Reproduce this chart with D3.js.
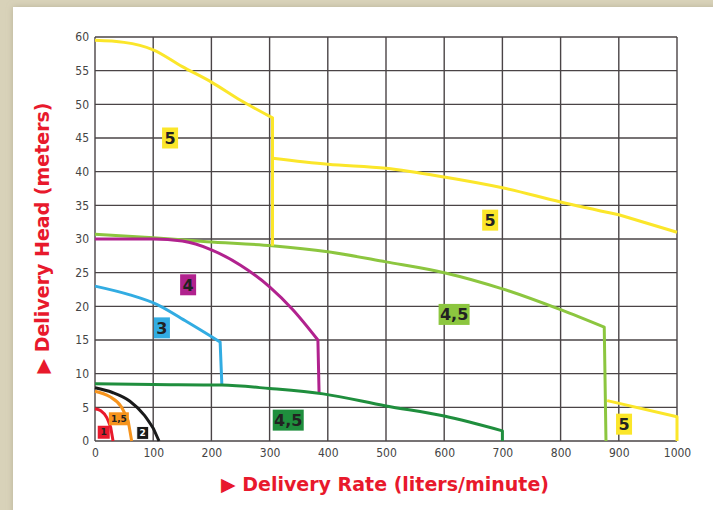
<!DOCTYPE html>
<html>
<head>
<meta charset="utf-8" />
<title>Delivery curves</title>
<style>
* { padding: 0; margin: 0; }
body { width: 713px; height: 510px; overflow: hidden; background: #fff; }
</style>
</head>
<body>
<div id="graph"></div>
<script src="https://cdn.jsdelivr.net/npm/d3@7"></script>
<script>
    // ticks
    var rateTicks = [0, 100, 200, 300, 400, 500, 600, 700, 800, 900, 1000]
    var headTicks = [0, 5, 10, 15, 20, 25, 30, 35, 40, 45, 50, 55, 60]

    // curves: [rate, head], last point of each is the vertical drop
    var curve1   = [[0, 4.8], [10, 4.5], [20, 3.5], [27, 2.0], [31, 0]]
    var curve15  = [[0, 7.4], [25, 6.6], [45, 5.1], [57, 3.0], [63, 0]]
    var curve2   = [[0, 7.9], [30, 7.2], [60, 5.9], [85, 3.8], [100, 1.9], [110, 0]]
    var curve3   = [[0, 23.0], [60, 21.7], [106, 20.3], [158, 17.7], [215, 14.7], [218, 8.3]]
    var curve4   = [[0, 30], [100, 30], [150, 29.7], [200, 28.4], [250, 26.1], [300, 22.9], [340, 19.5], [383, 15.0], [385, 7.2]]
    var curve45a = [[0, 8.5], [100, 8.4], [218, 8.3], [300, 7.8], [392, 7.0], [500, 5.2], [600, 3.7], [700, 1.5], [700, 0]]
    var curve45b = [[0, 30.7], [100, 30.2], [192, 29.6], [304, 29.0], [400, 28.1], [500, 26.6], [600, 25.0], [700, 22.6], [800, 19.5], [875, 16.9], [878, 0]]
    var curve5a  = [[0, 59.5], [50, 59.2], [100, 58.1], [150, 55.6], [200, 53.3], [250, 50.6], [305, 48], [305, 29]]
    var curve5b  = [[305, 42], [400, 41.1], [500, 40.5], [600, 39.2], [700, 37.6], [800, 35.5], [900, 33.6], [1000, 31.0]]
    var curve5c  = [[880, 6.0], [1000, 3.6], [1000, 0]]

    var series = [
        { pts: curve45b, color: "#8cc63f" },
        { pts: curve5a,  color: "#fbe62a" },
        { pts: curve5b,  color: "#fbe62a" },
        { pts: curve5c,  color: "#fbe62a" },
        { pts: curve4,   color: "#b1228e" },
        { pts: curve3,   color: "#32ace2" },
        { pts: curve45a, color: "#1f8e3d" },
        { pts: curve2,   color: "#1a1a1a" },
        { pts: curve15,  color: "#f7941d" },
        { pts: curve1,   color: "#e8192c" }
    ]

    // label tags: [rate, head, text, fill, text colour, size]
    var tags = [
        [129, 45.0, "5", "#fbe62a", "#222", "big"],
        [679, 32.8, "5", "#fbe62a", "#222", "big"],
        [909, 2.5, "5", "#fbe62a", "#222", "big"],
        [617, 18.8, "4,5", "#8cc63f", "#222", "big"],
        [332, 3.1, "4,5", "#1f8e3d", "#222", "big"],
        [160, 23.2, "4", "#b1228e", "#222", "big"],
        [115, 16.8, "3", "#32ace2", "#222", "big"],
        [15, 1.3, "1", "#e8192c", "#222", "small"],
        [41, 3.3, "1,5", "#f7941d", "#222", "small"],
        [82, 1.2, "2", "#1a1a1a", "#fff", "small"]
    ]

    var width = 713, height = 510
    var margin = {top: 37, left: 95, right: 36, bottom: 69}

    var svg = d3.select("#graph").append("svg")
        .attr("width", width).attr("height", height)

    // beige frame
    svg.append("rect").attr("width", width).attr("height", height).attr("fill", "#d8d2b9")
    var defs = svg.append("defs")
    var f = defs.append("filter").attr("id", "sh").attr("x", "-5%").attr("y", "-5%").attr("width", "110%").attr("height", "110%")
    f.append("feDropShadow").attr("dx", 0).attr("dy", 0).attr("stdDeviation", 3).attr("flood-color", "#a59f83").attr("flood-opacity", 0.6)
    svg.append("rect").attr("x", 13).attr("y", 7).attr("width", width).attr("height", height)
        .attr("fill", "#fff").attr("filter", "url(#sh)")

    var x = d3.scaleLinear().domain([0, 1000]).range([margin.left, width - margin.right])
    var y = d3.scaleLinear().domain([0, 60]).range([height - margin.bottom, margin.top])

    // grid
    var grid = svg.append("g")
    grid.selectAll("line.v").data(rateTicks).enter().append("line")
        .attr("x1", d => x(d)).attr("x2", d => x(d))
        .attr("y1", y(0)).attr("y2", y(60))
        .attr("stroke", "#4a4446").attr("stroke-width", 1.4)
    grid.selectAll("line.h").data(headTicks).enter().append("line")
        .attr("y1", d => y(d)).attr("y2", d => y(d))
        .attr("x1", x(0)).attr("x2", x(1000))
        .attr("stroke", "#4a4446").attr("stroke-width", 1.4)

    // axes
    svg.append("g").attr("transform", "translate(0," + y(0) + ")")
        .call(d3.axisBottom(x).tickValues(rateTicks).tickFormat(d3.format("d")).tickSize(0).tickPadding(7))
    svg.append("g").attr("transform", "translate(" + x(0) + ",0)")
        .call(d3.axisLeft(y).tickValues(headTicks).tickSize(0).tickPadding(6))
    svg.selectAll(".domain").remove()
    svg.selectAll(".tick text")
        .attr("fill", "#444")
        .style("font-family", "'DejaVu Sans Condensed', 'DejaVu Sans', sans-serif")
        .style("font-size", "12px")

    // curves: smooth part + straight drop
    var smooth = d3.line().x(d => x(d[0])).y(d => y(d[1])).curve(d3.curveMonotoneX)
    series.forEach(function(s) {
        var body = s.pts.slice(0, s.pts.length - 1)
        var last = s.pts[s.pts.length - 1]
        svg.append("path")
            .attr("d", smooth(body) + "L" + x(last[0]) + "," + y(last[1]))
            .attr("fill", "none")
            .attr("stroke", s.color)
            .attr("stroke-width", 3)
            .attr("stroke-linejoin", "round")
    })

    // tags
    var tg = svg.append("g").selectAll("g").data(tags).enter().append("g")
        .attr("transform", d => "translate(" + x(d[0]) + "," + y(d[1]) + ")")
    tg.append("rect")
        .attr("x", d => d[5] == "big" ? -(d[2].length > 1 ? 15.5 : 8) : -(d[2].length > 1 ? 10 : 6))
        .attr("y", d => d[5] == "big" ? -10.5 : -6.5)
        .attr("width", d => d[5] == "big" ? (d[2].length > 1 ? 31 : 16) : (d[2].length > 1 ? 20 : 12))
        .attr("height", d => d[5] == "big" ? 21 : 13)
        .attr("fill", d => d[3])
        .attr("stroke", d => d[4] == "#fff" ? "#fff" : "none")
        .attr("stroke-width", 1)
    tg.append("text")
        .attr("text-anchor", "middle")
        .attr("dy", "0.36em")
        .attr("fill", d => d[4])
        .style("font-family", "'DejaVu Sans', sans-serif")
        .style("font-weight", "bold")
        .style("font-size", d => d[5] == "big" ? "16px" : "9px")
        .text(d => d[2])

    // titles
    svg.append("text")
        .attr("x", 385).attr("y", 491)
        .attr("text-anchor", "middle")
        .attr("fill", "#e8192c")
        .style("font-family", "'DejaVu Sans', sans-serif")
        .style("font-weight", "bold")
        .style("font-size", "19px")
        .text("\u25B6 Delivery Rate (liters/minute)")
    svg.append("text")
        .attr("transform", "translate(49,238) rotate(-90)")
        .attr("text-anchor", "middle")
        .attr("fill", "#e8192c")
        .style("font-family", "'DejaVu Sans', sans-serif")
        .style("font-weight", "bold")
        .style("font-size", "19px")
        .text("\u25B6 Delivery Head (meters)")
</script>
</body>
</html>
